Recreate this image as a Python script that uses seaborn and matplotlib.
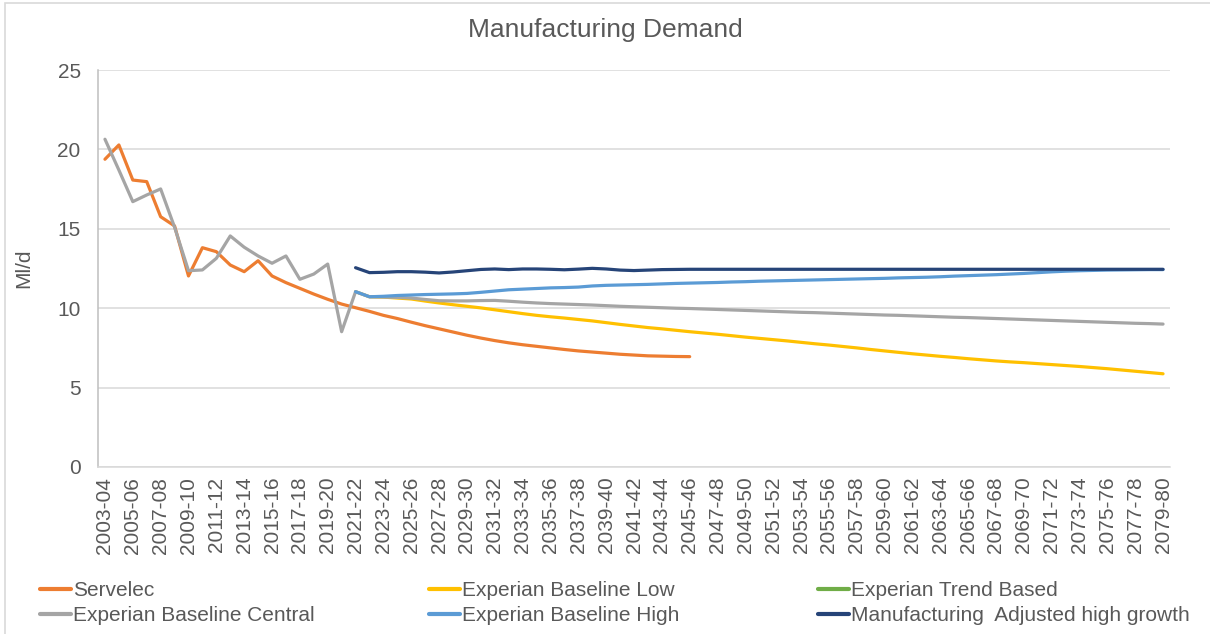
import matplotlib
matplotlib.use("Agg")
import matplotlib.pyplot as plt
from matplotlib.lines import Line2D
from matplotlib.patches import Rectangle
import numpy as np
import pandas as pd
import seaborn as sns

# Financial years 2003-04 .. 2079-80
years = [f"{y}-{str(y + 1)[-2:]}" for y in range(2003, 2080)]

# Manufacturing demand (Ml/d) per scenario
servelec = [  # 2003-04 .. 2045-46
    19.38, 20.28, 18.07, 17.97, 15.76, 15.18, 12.03, 13.81, 13.56, 12.72,
    12.30, 12.99, 12.03, 11.61, 11.25, 10.89, 10.56, 10.26, 10.03, 9.80,
    9.55, 9.35, 9.12, 8.90, 8.70, 8.50, 8.30, 8.12, 7.96, 7.82,
    7.70, 7.60, 7.50, 7.40, 7.31, 7.24, 7.17, 7.10, 7.05, 7.00,
    6.98, 6.96, 6.95,
]
servelec_start = "2003-04"

baseline_central = [  # 2003-04 .. 2079-80
    20.64, 18.70, 16.71, 17.13, 17.51, 15.10, 12.36, 12.41, 13.14, 14.55,
    13.84, 13.29, 12.83, 13.29, 11.82, 12.15, 12.78, 8.52, 11.04, 10.72,
    10.70, 10.68, 10.64, 10.55, 10.47, 10.46, 10.46, 10.48, 10.49, 10.44,
    10.38, 10.33, 10.29, 10.26, 10.23, 10.20, 10.16, 10.12, 10.09, 10.06,
    10.03, 10.00, 9.98, 9.95, 9.92, 9.89, 9.86, 9.83, 9.80, 9.77,
    9.74, 9.72, 9.69, 9.66, 9.63, 9.60, 9.57, 9.55, 9.52, 9.49,
    9.46, 9.43, 9.41, 9.38, 9.35, 9.32, 9.29, 9.26, 9.23, 9.20,
    9.17, 9.14, 9.11, 9.08, 9.05, 9.03, 9.00,
]
central_start = "2003-04"

baseline_low = [  # 2021-22 .. 2079-80
    11.04, 10.72, 10.70, 10.64, 10.58, 10.45, 10.33, 10.22, 10.12, 10.02,
    9.90, 9.78, 9.66, 9.55, 9.46, 9.38, 9.29, 9.20, 9.09, 8.98,
    8.88, 8.78, 8.70, 8.61, 8.52, 8.44, 8.36, 8.27, 8.18, 8.10,
    8.02, 7.94, 7.85, 7.76, 7.68, 7.59, 7.50, 7.40, 7.31, 7.22,
    7.13, 7.05, 6.97, 6.90, 6.82, 6.75, 6.68, 6.62, 6.57, 6.51,
    6.45, 6.39, 6.33, 6.26, 6.19, 6.11, 6.03, 5.95, 5.87,
]
low_start = "2021-22"

baseline_high = [  # 2021-22 .. 2079-80
    11.04, 10.72, 10.75, 10.80, 10.83, 10.86, 10.88, 10.90, 10.93, 11.00,
    11.08, 11.16, 11.20, 11.24, 11.28, 11.30, 11.33, 11.40, 11.44, 11.46,
    11.48, 11.50, 11.53, 11.56, 11.58, 11.60, 11.62, 11.65, 11.67, 11.70,
    11.72, 11.74, 11.76, 11.78, 11.80, 11.82, 11.84, 11.86, 11.88, 11.91,
    11.93, 11.95, 11.98, 12.02, 12.05, 12.08, 12.11, 12.15, 12.19, 12.24,
    12.29, 12.33, 12.36, 12.38, 12.40, 12.41, 12.42, 12.43, 12.43,
]
high_start = "2021-22"

adjusted_high_growth = [  # 2021-22 .. 2079-80
    12.55, 12.24, 12.26, 12.30, 12.30, 12.27, 12.22, 12.28, 12.36, 12.44,
    12.47, 12.43, 12.47, 12.47, 12.45, 12.42, 12.46, 12.51, 12.47, 12.40,
    12.37, 12.40, 12.43, 12.44, 12.45, 12.45, 12.45, 12.45, 12.45, 12.45,
    12.45, 12.45, 12.45, 12.45, 12.45, 12.45, 12.45, 12.45, 12.45, 12.45,
    12.45, 12.45, 12.45, 12.45, 12.45, 12.45, 12.45, 12.45, 12.45, 12.45,
    12.45, 12.45, 12.45, 12.45, 12.45, 12.45, 12.45, 12.45, 12.45,
]
adjusted_start = "2021-22"

trend_based = []  # no values published for this scenario

series_names = [
    "Servelec",
    "Experian Baseline Low",
    "Experian Trend Based",
    "Experian Baseline Central",
    "Experian Baseline High",
    "Manufacturing  Adjusted high growth",
]
series_colors = ["#ED7D31", "#FFC000", "#70AD47", "#A5A5A5", "#5B9BD5", "#264478"]

series_data = {
    "Servelec": (servelec, servelec_start),
    "Experian Baseline Low": (baseline_low, low_start),
    "Experian Trend Based": (trend_based, "2021-22"),
    "Experian Baseline Central": (baseline_central, central_start),
    "Experian Baseline High": (baseline_high, high_start),
    "Manufacturing  Adjusted high growth": (adjusted_high_growth, adjusted_start),
}

rows = []
for name, (vals, start) in series_data.items():
    i0 = years.index(start)
    for k, v in enumerate(vals):
        rows.append({"pos": i0 + k, "year": years[i0 + k], "series": name, "demand": v})
df = pd.DataFrame(rows)

sns.set_theme(style="white")
plt.rcParams["font.family"] = ["Liberation Sans", "DejaVu Sans"]

text_grey = "#595959"
grid_grey = "#D9D9D9"
W, H = 1210, 634

fig = plt.figure(figsize=(W / 100, H / 100), dpi=100)
ax = fig.add_axes([98 / W, 1 - 467 / H, (1170 - 98) / W, (467 - 70) / H])

# Chart border
fig.patches.append(Rectangle((5 / W, -0.05), 1.2, 1 - 3 / H + 0.05,
                             transform=fig.transFigure, fill=False,
                             edgecolor="#D9D9D9", linewidth=1.2))

for name, color in zip(series_names, series_colors):
    sub = df[df["series"] == name]
    if sub.empty:
        continue
    sns.lineplot(data=sub, x="pos", y="demand", color=color, linewidth=2.3,
                 sort=False, estimator=None, ax=ax, legend=False)

ax.set_xlim(-0.5, len(years) - 0.5)
ax.set_ylim(0, 25)
ax.set_yticks([0, 5, 10, 15, 20, 25])
ax.set_xticks(range(0, len(years), 2))
ax.set_xticklabels(years[::2], rotation=90)
ax.tick_params(axis="both", labelsize=15, colors=text_grey, length=0)
ax.tick_params(axis="y", pad=12.5)
ax.tick_params(axis="x", pad=7)
ax.grid(axis="y", color=grid_grey, linewidth=1.1)
ax.set_axisbelow(True)
for side in ["top", "right"]:
    ax.spines[side].set_visible(False)
ax.spines["left"].set_color("#BFBFBF")
ax.spines["bottom"].set_color(grid_grey)
ax.spines["left"].set_linewidth(1.1)
ax.spines["bottom"].set_linewidth(1.1)
ax.set_xlabel("")
ax.set_ylabel("Ml/d", fontsize=15, color=text_grey)
ax.yaxis.set_label_coords((33 - 98) / (1170 - 98), 0.5)

fig.text(0.5, 1 - 30 / H, "Manufacturing Demand", ha="center", va="center",
         fontsize=19, color=text_grey)

# Legend: three columns of two entries each
columns = [(0, 3), (1, 4), (2, 5)]
col_x = [40, 429, 818]
for (a, b), x in zip(columns, col_x):
    handles = [Line2D([0], [0], color=series_colors[i], linewidth=3) for i in (a, b)]
    labels = [series_names[i] for i in (a, b)]
    leg = fig.legend(handles, labels, loc="upper left",
                     bbox_to_anchor=(x / W, 1 - 581 / H),
                     frameon=False, fontsize=15, handlelength=1.5,
                     handletextpad=0.1, labelspacing=0.3, borderpad=0,
                     borderaxespad=0)
    for t in leg.get_texts():
        t.set_color(text_grey)

fig.savefig("out.png", dpi=100)
